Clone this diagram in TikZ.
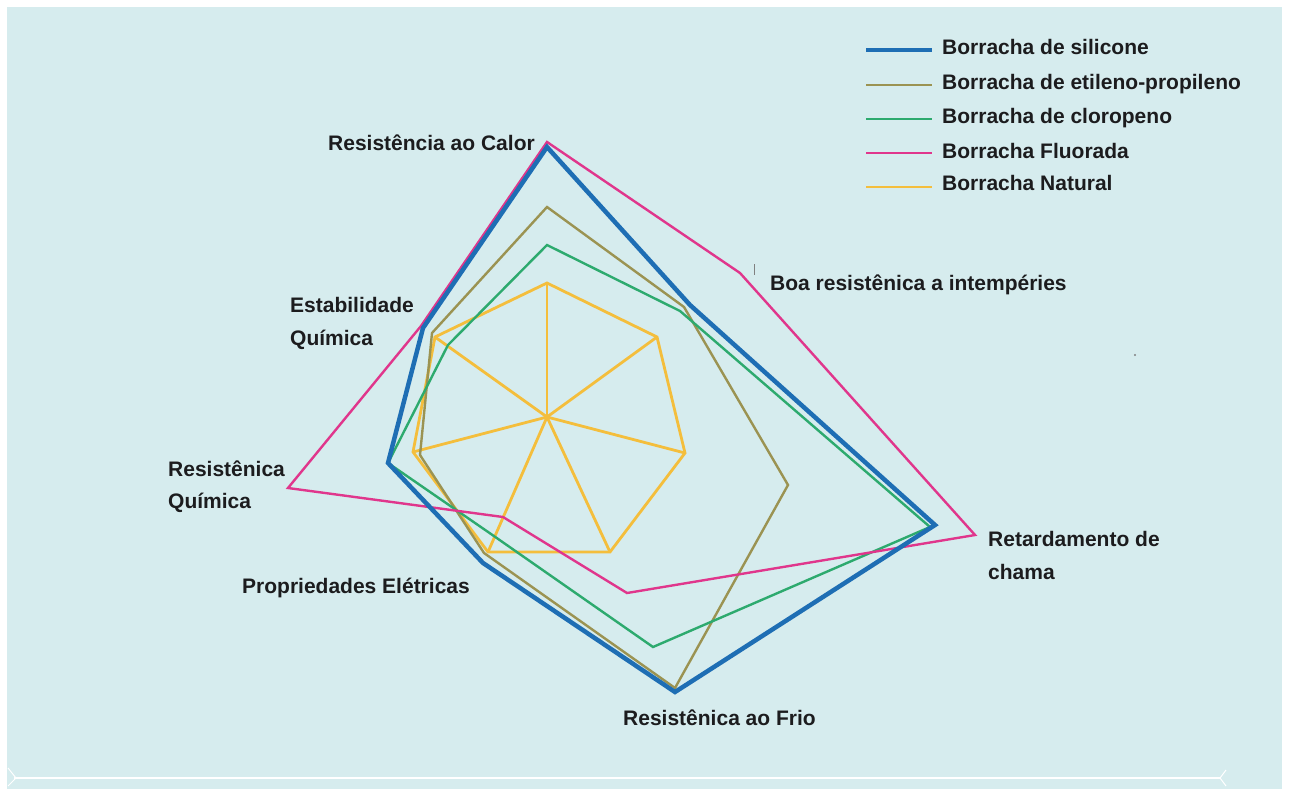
\documentclass[tikz,border=0pt]{standalone}
\usepackage{fontspec}
\setmainfont{Liberation Sans}
\definecolor{bg}{RGB}{214,236,238}
\definecolor{txt}{RGB}{28,28,30}
\definecolor{csil}{RGB}{30,110,180}
\definecolor{cepdm}{RGB}{155,147,82}
\definecolor{ccloro}{RGB}{45,170,110}
\definecolor{cfluo}{RGB}{224,54,140}
\definecolor{cnat}{RGB}{244,190,60}
\begin{document}
\begin{tikzpicture}[x=1pt,y=-1pt,
  lbl/.style={font=\fontsize{21}{25}\selectfont\bfseries, text=txt, inner sep=0pt, anchor=base west},
  sil/.style={draw=csil, line width=4.5pt},
  epdm/.style={draw=cepdm, line width=2.4pt},
  cloro/.style={draw=ccloro, line width=2.4pt},
  fluo/.style={draw=cfluo, line width=2.4pt},
  nat/.style={draw=cnat, line width=2.8pt}]
\useasboundingbox (0,0) rectangle (1289,789);
\fill[white] (0,0) rectangle (1289,789);
\fill[bg] (7,7) rectangle (1282,789);
\draw[white, line width=2.5pt] (14,778) -- (1220,778);
\draw[white, line width=1pt] (8,768) -- (16,778) -- (8,786);
\draw[white, line width=1pt] (1226,770) -- (1220,778) -- (1226,786);

% centre
\coordinate (C) at (547,417);
% Natural
\coordinate (Nh) at (547,283); \coordinate (Nw) at (657,337); \coordinate (Nf) at (685,453);
\coordinate (Nc) at (610,552); \coordinate (Ne) at (488,552); \coordinate (Nq) at (413,452);
\coordinate (Ns) at (435,337);
% Silicone
\coordinate (Sh) at (547,147); \coordinate (Sw) at (690,305); \coordinate (Sf) at (935,525);
\coordinate (Sc) at (675,692); \coordinate (Se) at (483,563); \coordinate (Sq) at (388,463);
\coordinate (Ss) at (423,328);
% EPDM
\coordinate (Eh) at (547,207); \coordinate (Ew) at (684,307); \coordinate (Ef) at (788,485);
\coordinate (Ec) at (675,688); \coordinate (Ee) at (484,553); \coordinate (Eq) at (420,455);
\coordinate (Es) at (432,333);
% Chloroprene
\coordinate (Gh) at (547,245); \coordinate (Gw) at (680,311); \coordinate (Gf) at (930,527);
\coordinate (Gc) at (653,647); \coordinate (Ge) at (491,534); \coordinate (Gq) at (388,463);
\coordinate (Gs) at (448,345);
% Fluoro
\coordinate (Fh) at (547,142); \coordinate (Fw) at (740,273); \coordinate (Ff) at (975,535);
\coordinate (Fc) at (627,593); \coordinate (Fe) at (503,517); \coordinate (Fq) at (288,488);
\coordinate (Fs) at (421,326);

% Natural polygon and spokes
\draw[nat] (Nh) -- (Nw) -- (Nf) -- (Nc) -- (Ne) -- (Nq) -- (Ns) -- cycle;
\foreach \p in {Nh,Nw,Nf,Nc,Ne,Nq,Ns} \draw[nat] (C) -- (\p);
\draw[epdm] (Eh) -- (Ew) -- (Ef) -- (Ec) -- (Ee) -- (Eq) -- (Es) -- cycle;
\draw[cloro] (Gh) -- (Gw) -- (Gf) -- (Gc) -- (Ge) -- (Gq) -- (Gs) -- cycle;
\draw[fluo] (Fh) -- (Fw) -- (Ff) -- (Fc) -- (Fe) -- (Fq) -- (Fs) -- cycle;
\draw[sil] (Sh) -- (Sw) -- (Sf) -- (Sc) -- (Se) -- (Sq) -- (Ss) -- cycle;

% small marks
\coordinate (T1) at (754,264); \coordinate (T2) at (754,275);
\draw[gray, line width=0.9pt] (T1) -- (T2);
\coordinate (D1) at (1135,355);
\fill[gray] (D1) circle (1.1);

% axis labels
\node[lbl] (lHeat) at (328,150) {Resistência ao Calor};
\node[lbl] (lWeather) at (770,290) {Boa resistênica a intempéries};
\node[lbl] (lStab1) at (290,312) {Estabilidade};
\node[lbl] (lStab2) at (290,345) {Química};
\node[lbl] (lChem1) at (168,476) {Resistênica};
\node[lbl] (lChem2) at (168,508) {Química};
\node[lbl] (lElec) at (242,593) {Propriedades Elétricas};
\node[lbl] (lCold) at (623,725) {Resistênica ao Frio};
\node[lbl] (lFlame1) at (988,546) {Retardamento de};
\node[lbl] (lFlame2) at (988,579) {chama};

% legend
\coordinate (L1a) at (866,50);  \coordinate (L1b) at (932,50);
\coordinate (L2a) at (866,85);  \coordinate (L2b) at (932,85);
\coordinate (L3a) at (866,119); \coordinate (L3b) at (932,119);
\coordinate (L4a) at (866,153); \coordinate (L4b) at (932,153);
\coordinate (L5a) at (866,187); \coordinate (L5b) at (932,187);
\draw[sil, line width=4pt] (L1a) -- (L1b);
\draw[epdm] (L2a) -- (L2b);
\draw[cloro] (L3a) -- (L3b);
\draw[fluo] (L4a) -- (L4b);
\draw[nat] (L5a) -- (L5b);
\node[lbl] (g1) at (942,55) {Borracha de silicone};
\node[lbl] (g2) at (942,90) {Borracha de etileno-propileno};
\node[lbl] (g3) at (942,124) {Borracha de cloropeno};
\node[lbl] (g4) at (942,158) {Borracha Fluorada};
\node[lbl] (g5) at (942,190) {Borracha Natural};
\end{tikzpicture}
\end{document}
